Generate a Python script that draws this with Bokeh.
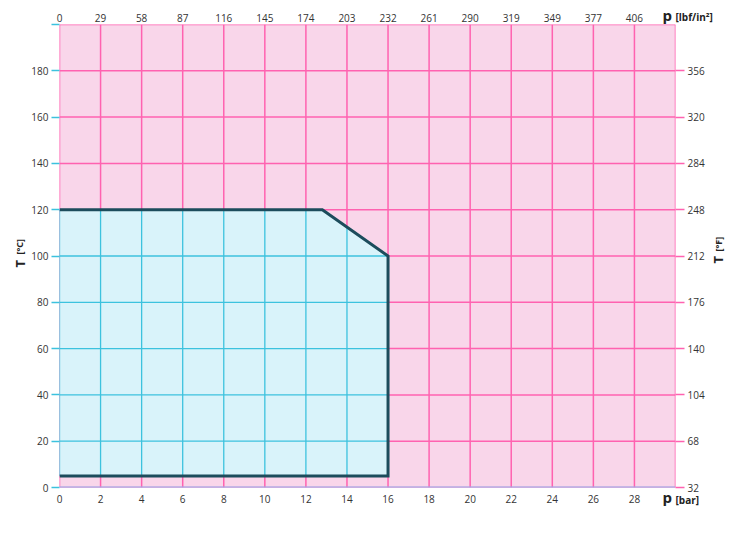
import numpy as np
from bokeh.plotting import figure
from bokeh.models import Range1d, LinearAxis, FixedTicker, Title
from bokeh.embed import file_html
from bokeh.resources import INLINE

# ---- data ----
p_bar_ticks = [0, 2, 4, 6, 8, 10, 12, 14, 16, 18, 20, 22, 24, 26, 28]
p_psi_labels = ["0", "29", "58", "87", "116", "145", "174", "203", "232", "261",
                "290", "319", "349", "377", "406"]
t_c_ticks = [0, 20, 40, 60, 80, 100, 120, 140, 160, 180, 200]
t_f_ticks = [32, 68, 104, 140, 176, 212, 248, 284, 320, 356]
# operating envelope (pressure bar, temperature °C)
env_p = [0, 12.8, 16, 16, 0]
env_t = [120, 120, 100, 5, 5]

P_MAX, T_MAX = 30, 200

PINK_BG = "#f9d6ea"
PINK_GRID = "#ff62b0"
BLUE_BG = "#d9f3fa"
BLUE_GRID = "#3cc2de"
EDGE = "#1c4c5c"
TXT = "#333333"
FONT = "Open Sans"

FL, FT = 59, 24  # frame left/top in page pixels
W, H = 730, 534
FW, FH = 616, 463

p = figure(frame_width=FW, frame_height=FH, output_backend="svg",
           toolbar_location=None, x_range=Range1d(0, P_MAX), y_range=Range1d(0, T_MAX),
           min_border_left=FL, min_border_right=W - FL - FW, min_border_top=FT,
           min_border_bottom=H - FT - FH,
           x_axis_location=None, y_axis_location=None)
p.background_fill_color = "white"
p.border_fill_color = "white"
p.outline_line_color = None
p.xgrid.visible = False
p.ygrid.visible = False

# pink background
p.quad(left=0, right=P_MAX, bottom=0, top=T_MAX, fill_color=PINK_BG, line_color=None)

# pink grid
gx = list(range(0, P_MAX + 1, 2))
gy = list(range(0, T_MAX + 1, 20))
p.segment(x0=gx, x1=gx, y0=[0] * len(gx), y1=[T_MAX] * len(gx), line_color=PINK_GRID, line_width=1.5)
p.segment(x0=[0] * len(gy), x1=[P_MAX] * len(gy), y0=gy, y1=gy, line_color=PINK_GRID, line_width=1.5)

# envelope fill
p.patch(x=[0] + env_p, y=[5] + env_t, fill_color=BLUE_BG, line_color=None)

# blue grid inside envelope
top_x = env_p[:3]
top_y = env_t[:3]
t_low = min(env_t)
p_max_env = max(env_p)
vx = [x for x in gx if 0 <= x <= p_max_env]
vtop = [float(np.interp(x, top_x, top_y)) for x in vx]
p.segment(x0=vx, x1=vx, y0=[t_low] * len(vx), y1=vtop, line_color=BLUE_GRID, line_width=1.3)
hy = [y for y in gy if t_low < y < max(env_t)]
hright = [float(np.interp(y, top_y[::-1], top_x[::-1])) if y > 100 else p_max_env for y in hy]
p.segment(x0=[0] * len(hy), x1=hright, y0=hy, y1=hy, line_color=BLUE_GRID, line_width=1.3)

# bottom border (light blue)
p.segment(x0=[0], x1=[P_MAX], y0=[0], y1=[0], line_color="#8fb3f0", line_width=2)

# envelope outline
p.line(x=env_p, y=env_t, line_color=EDGE, line_width=3, line_join="miter")

# ---- axes ----
def style(ax, color):
    ax.axis_line_color = None
    ax.major_tick_line_color = color
    ax.major_tick_line_width = 1.3
    ax.minor_tick_line_color = None
    ax.major_tick_in = 0
    ax.major_label_text_font = FONT
    ax.major_label_text_font_size = "10px"
    ax.major_label_text_color = TXT

bottom = LinearAxis(ticker=FixedTicker(ticks=p_bar_ticks))
style(bottom, None)
bottom.major_tick_out = 0
bottom.major_label_standoff = 7
p.add_layout(bottom, "below")

top = LinearAxis(ticker=FixedTicker(ticks=p_bar_ticks),
                 major_label_overrides={t: s for t, s in zip(p_bar_ticks, p_psi_labels)})
style(top, None)
top.major_tick_out = 0
top.major_label_standoff = 3
p.add_layout(top, "above")

left = LinearAxis(ticker=FixedTicker(ticks=t_c_ticks),
                  major_label_overrides={T_MAX: ""})
style(left, BLUE_GRID)
left.major_tick_out = 8
left.major_label_standoff = 3
p.add_layout(left, "left")

p.extra_y_ranges = {"f": Range1d(32, 32 + T_MAX * 1.8)}
right = LinearAxis(y_range_name="f", ticker=FixedTicker(ticks=t_f_ticks))
style(right, PINK_GRID)
right.major_tick_out = 9
right.major_label_standoff = 3
p.add_layout(right, "right")

# ---- axis titles (zero-size side titles, placed by standoff / offset) ----
def ttl(side, txt, size, offset, standoff, valign):
    p.add_layout(Title(text=txt, text_font=FONT, text_font_size=size, text_font_style="bold",
                       text_color="#222222", align="left", offset=offset,
                       standoff=standoff, vertical_align=valign), side)

# left panel: °C title pieces and (pushed across) °F title pieces
ttl("left", "[°C]", "9px", 233, -31, "top")
ttl("left", "T", "13px", 220, -35, "top")
ttl("left", "[°F]", "9px", 236, -1392, "bottom")
ttl("left", "T", "13px", 224, -1396, "bottom")
# above: pressure in psi
ttl("above", "[lbf/in²]", "10px", 616, -27, "bottom")
ttl("above", "p", "15px", 603, -28, "bottom")
# below: pressure in bar
ttl("below", "[bar]", "10px", 616, -26, "top")
ttl("below", "p", "15px", 603, -38, "top")

open("out.html", "w").write(file_html(p, INLINE))
